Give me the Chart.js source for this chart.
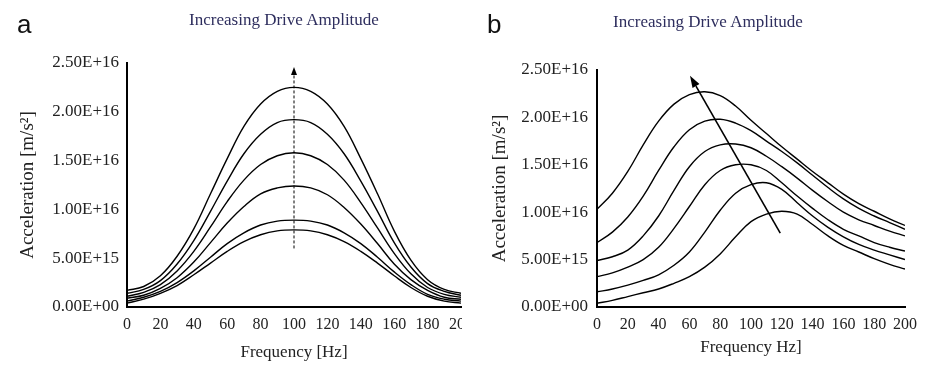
<!DOCTYPE html>
<html>
<head>
<meta charset="utf-8">
<script src="https://cdn.jsdelivr.net/npm/chart.js@4.4.1/dist/chart.umd.min.js"></script>
<style>
  body { margin: 0; background: #fff; width: 925px; height: 374px; position: relative; overflow: hidden; }
  canvas { position: absolute; top: 0; }
  #chartA { left: 0; }
  #chartB { left: 462px; }
  .panel { position: absolute; font: 26px "Liberation Sans", Arial, sans-serif; line-height: 26px; color: #111; }
  .title { position: absolute; width: 260px; text-align: center; white-space: nowrap;
           font: 17px "Liberation Serif", "Times New Roman", serif; line-height: 17px; color: #2e2e5e; }
</style>
</head>
<body>
<canvas id="chartA" width="462" height="374"></canvas>
<canvas id="chartB" width="463" height="374"></canvas>
<div class="panel" style="left:17px;top:11px">a</div>
<div class="panel" style="left:487px;top:11px">b</div>
<div class="title" style="left:154px;top:11px">Increasing Drive Amplitude</div>
<div class="title" style="left:578px;top:13px">Increasing Drive Amplitude</div>
<script>
// frequency points [Hz]
const freqs = [0, 10, 20, 30, 40, 50, 60, 70, 80, 90, 100, 110, 120, 130, 140, 150, 160, 170, 180, 190, 200];

// acceleration, in units of 1E+16 m/s^2 (lowest drive first)
// panel a
const a1 = [0.04, 0.08, 0.14, 0.22, 0.33, 0.45, 0.57, 0.67, 0.74, 0.78, 0.79, 0.78, 0.74, 0.67, 0.57, 0.45, 0.32, 0.20, 0.11, 0.06, 0.04];
const a2 = [0.06, 0.10, 0.16, 0.25, 0.37, 0.51, 0.65, 0.76, 0.84, 0.88, 0.89, 0.88, 0.84, 0.76, 0.65, 0.51, 0.36, 0.23, 0.13, 0.08, 0.06];
const a3 = [0.09, 0.12, 0.19, 0.30, 0.46, 0.66, 0.86, 1.03, 1.16, 1.22, 1.24, 1.22, 1.15, 1.02, 0.85, 0.65, 0.44, 0.28, 0.17, 0.10, 0.08];
const a4 = [0.11, 0.15, 0.23, 0.37, 0.57, 0.82, 1.08, 1.30, 1.46, 1.55, 1.58, 1.55, 1.46, 1.30, 1.07, 0.81, 0.55, 0.34, 0.20, 0.13, 0.10];
const a5 = [0.14, 0.18, 0.27, 0.44, 0.68, 0.98, 1.29, 1.57, 1.77, 1.89, 1.92, 1.89, 1.77, 1.57, 1.29, 0.98, 0.66, 0.41, 0.24, 0.16, 0.12];
const a6 = [0.17, 0.21, 0.32, 0.52, 0.80, 1.16, 1.52, 1.85, 2.08, 2.21, 2.25, 2.21, 2.08, 1.85, 1.52, 1.16, 0.78, 0.48, 0.28, 0.18, 0.14];

// panel b
const b1 = [0.04, 0.07, 0.11, 0.15, 0.19, 0.25, 0.32, 0.42, 0.56, 0.74, 0.90, 0.98, 1.01, 0.98, 0.87, 0.75, 0.65, 0.58, 0.51, 0.45, 0.40];
const b2 = [0.16, 0.19, 0.23, 0.28, 0.34, 0.44, 0.58, 0.79, 1.02, 1.20, 1.29, 1.31, 1.24, 1.10, 0.96, 0.84, 0.74, 0.66, 0.60, 0.55, 0.50];
const b3 = [0.32, 0.36, 0.42, 0.50, 0.63, 0.83, 1.06, 1.29, 1.44, 1.50, 1.50, 1.44, 1.31, 1.17, 1.04, 0.92, 0.82, 0.75, 0.68, 0.63, 0.59];
const b4 = [0.49, 0.53, 0.60, 0.75, 0.96, 1.23, 1.48, 1.64, 1.71, 1.72, 1.68, 1.59, 1.48, 1.36, 1.23, 1.11, 1.00, 0.92, 0.86, 0.80, 0.75];
const b5 = [0.68, 0.79, 0.95, 1.17, 1.44, 1.69, 1.87, 1.96, 1.98, 1.94, 1.86, 1.75, 1.64, 1.52, 1.39, 1.26, 1.14, 1.04, 0.96, 0.89, 0.82];
const b6 = [1.03, 1.20, 1.43, 1.71, 1.96, 2.14, 2.24, 2.27, 2.23, 2.12, 1.97, 1.83, 1.69, 1.56, 1.43, 1.31, 1.19, 1.09, 1.01, 0.93, 0.86];

const xTickLabels = ['0', '20', '40', '60', '80', '100', '120', '140', '160', '180', '200'];
const yTickLabels = ['0.00E+00', '5.00E+15', '1.00E+16', '1.50E+16', '2.00E+16', '2.50E+16'];

// "increasing drive amplitude" arrows, [freq, accel] tail -> head
const arrowA = [[100, 0.60], [100, 2.46]];
const arrowB = [[119, 0.78], [60.4, 2.44]];

const SERIF = '"Liberation Serif", "Times New Roman", serif';

const arrowPlugin = {
  id: 'driveArrow',
  afterDatasetsDraw(chart, args, o) {
    if (!o || !o.points) return;
    const { x, y } = chart.scales;
    const ctx = chart.ctx;
    const x0 = x.getPixelForValue(o.points[0][0]), y0 = y.getPixelForValue(o.points[0][1]);
    const x1 = x.getPixelForValue(o.points[1][0]), y1 = y.getPixelForValue(o.points[1][1]);
    const ang = Math.atan2(y1 - y0, x1 - x0);
    const bx = x1 - o.head * Math.cos(ang), by = y1 - o.head * Math.sin(ang);

    ctx.save();
    ctx.strokeStyle = '#000';
    ctx.fillStyle = '#000';
    ctx.lineWidth = o.width;
    ctx.setLineDash(o.dash || []);
    ctx.beginPath();
    ctx.moveTo(x0, y0);
    ctx.lineTo(bx, by);
    ctx.stroke();
    ctx.setLineDash([]);
    ctx.beginPath();
    ctx.moveTo(x1, y1);
    ctx.lineTo(bx + o.half * Math.sin(ang), by - o.half * Math.cos(ang));
    ctx.lineTo(bx - o.half * Math.sin(ang), by + o.half * Math.cos(ang));
    ctx.closePath();
    ctx.fill();
    ctx.restore();
  }
};

function makeChart(canvasId, curves, opts) {
  const ctx = document.getElementById(canvasId).getContext('2d');

  return new Chart(ctx, {
    type: 'line',
    data: {
      datasets: curves.map(vals => ({
        data: freqs.map((f, i) => ({ x: f, y: vals[i] })),
        borderColor: '#000',
        borderWidth: 1.4,
        pointRadius: 0,
        fill: false,
        tension: 0.4
      }))
    },
    options: {
      responsive: false,
      animation: false,
      layout: { padding: opts.padding },
      plugins: {
        legend: { display: false },
        tooltip: { enabled: false },
        driveArrow: opts.arrow
      },
      scales: {
        x: {
          type: 'linear',
          min: 0,
          max: 200,
          grid: { display: false, drawTicks: false },
          border: { color: '#000', width: 2 },
          ticks: {
            stepSize: 20,
            autoSkip: false,
            maxRotation: 0,
            padding: 8,
            color: '#222',
            font: { family: SERIF, size: 16 },
            callback: v => xTickLabels[Math.round(v / 20)]
          },
          title: {
            display: true,
            text: opts.xTitle,
            color: '#222',
            font: { family: SERIF, size: 17 },
            padding: { top: 0, bottom: opts.xTitlePad }
          },
          afterFit: s => { s.height = 67; s.paddingLeft = 0; s.paddingRight = 0; }
        },
        y: {
          min: 0,
          max: 2.5,
          grid: { display: false, drawTicks: false },
          border: { color: '#000', width: 2 },
          ticks: {
            stepSize: 0.5,
            padding: opts.yTickPad,
            color: '#222',
            font: { family: SERIF, size: 17 },
            callback: v => yTickLabels[Math.round(v / 0.5)]
          },
          title: {
            display: true,
            text: 'Acceleration [m/s²]',
            color: '#222',
            font: { family: SERIF, size: 19 },
            padding: { top: 7, bottom: 0 }
          },
          afterFit: s => { s.width = opts.yWidth; s.paddingTop = 0; s.paddingBottom = 0; }
        }
      }
    },
    plugins: [arrowPlugin]
  });
}

makeChart('chartA', [a1, a2, a3, a4, a5, a6], {
  padding: { left: 10, right: 1, top: 63, bottom: 0 },
  yWidth: 117,
  yTickPad: 8,
  xTitle: 'Frequency [Hz]',
  xTitlePad: 11,
  arrow: { points: arrowA, width: 1, dash: [3, 2], head: 8, half: 3 }
});

makeChart('chartB', [b1, b2, b3, b4, b5, b6], {
  padding: { left: 20, right: 20, top: 70, bottom: 0 },
  yWidth: 115,
  yTickPad: 9,
  xTitle: 'Frequency Hz]',
  xTitlePad: 16,
  arrow: { points: arrowB, width: 1.6, head: 12, half: 4 }
});
</script>
</body>
</html>
